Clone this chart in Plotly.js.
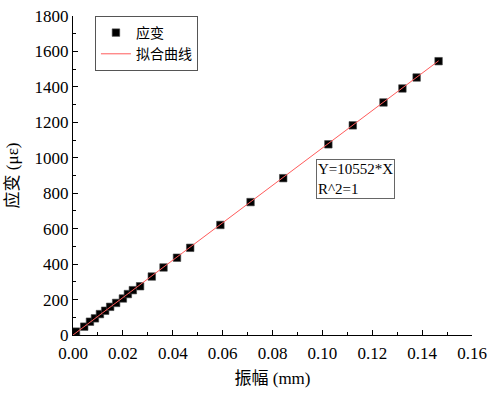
<!DOCTYPE html>
<html>
<head>
<meta charset="utf-8">
<script src="https://cdn.plot.ly/plotly-3.0.1.min.js"></script>
<style>
html,body{margin:0;padding:0;background:#fff;}
#chart{width:500px;height:394px;}
</style>
</head>
<body>
<div id="chart"></div>
<script>
// Data
const amplitude = [0.0012, 0.0045, 0.0068, 0.0088, 0.0108, 0.0129, 0.0149, 0.0173, 0.0200, 0.0220, 0.0240, 0.0269,
                   0.0316, 0.0363, 0.0417, 0.0470, 0.0591, 0.0712, 0.0843, 0.1024, 0.1122, 0.1245, 0.1321, 0.1378, 0.1466];
const strain = [19, 47, 75, 94, 118, 137, 159, 181, 206, 231, 253, 275,
                330, 381, 436, 492, 621, 750, 885, 1076, 1183, 1312, 1391, 1453, 1545];
const fitX = [0, 0.1466];
const fitY = [0, 1547];
const xTickVals = [0, 0.02, 0.04, 0.06, 0.08, 0.10, 0.12, 0.14, 0.16];
const xTickText = ['0.00', '0.02', '0.04', '0.06', '0.08', '0.10', '0.12', '0.14', '0.16'];
const seriesNames = ['应变', '拟合曲线'];
const fitLabel = 'Y=10552*X<br>R^2=1';

const SERIF = 'Liberation Serif';
const MIXED = 'Liberation Serif, Noto Sans CJK SC';

const traces = [
  {
    x: amplitude, y: strain, type: 'scatter', mode: 'markers', name: seriesNames[0],
    marker: {symbol: 'square', size: 7.5, color: '#000', line: {color: '#444', width: 0.6}}
  },
  {
    x: fitX, y: fitY, type: 'scatter', mode: 'lines', name: seriesNames[1],
    line: {color: '#ff5a5a', width: 1}
  }
];

const layout = {
  width: 500, height: 394,
  font: {family: SERIF, size: 17, color: '#000'},
  margin: {l: 73, r: 28, t: 16, b: 59},
  paper_bgcolor: '#fff', plot_bgcolor: '#fff',
  showlegend: true,
  legend: {
    x: 0.055, y: 1.0, xanchor: 'left', yanchor: 'top',
    bordercolor: '#555', borderwidth: 1, bgcolor: '#fff',
    font: {family: 'Noto Sans CJK SC', size: 14, color: '#000'},
    tracegroupgap: 0, itemwidth: 30
  },
  xaxis: {
    showline: true, linecolor: '#000', linewidth: 1,
    ticks: 'inside', ticklen: 5, tickwidth: 1, tickcolor: '#000',
    showgrid: false, zeroline: false,
    tickfont: {family: SERIF, size: 17, color: '#000'},
    range: [0, 0.16], tickmode: 'array', tickvals: xTickVals, ticktext: xTickText,
    ticklabelstandoff: 3,
    minor: {dtick: 0.01, ticks: 'inside', ticklen: 3, tickcolor: '#000', showgrid: false},
    title: {text: '振幅 (mm)', font: {family: MIXED, size: 17, color: '#000'}, standoff: 9}
  },
  yaxis: {
    showline: true, linecolor: '#000', linewidth: 1,
    ticks: 'inside', ticklen: 5, tickwidth: 1, tickcolor: '#000',
    showgrid: false, zeroline: false,
    tickfont: {family: SERIF, size: 17, color: '#000'},
    range: [0, 1800], dtick: 200,
    minor: {dtick: 100, ticks: 'inside', ticklen: 3, tickcolor: '#000', showgrid: false},
    title: {text: '应变 (με)', font: {family: MIXED, size: 17, color: '#000'}, standoff: 11}
  },
  annotations: [{
    xref: 'paper', yref: 'paper', x: 0.609, y: 0.553, xanchor: 'left', yanchor: 'top',
    text: fitLabel, showarrow: false, align: 'left',
    font: {family: SERIF, size: 15, color: '#000'},
    bordercolor: '#666', borderwidth: 1, borderpad: 1, bgcolor: '#fff'
  }]
};

Plotly.newPlot('chart', traces, layout, {displayModeBar: false, staticPlot: true});
</script>
</body>
</html>
